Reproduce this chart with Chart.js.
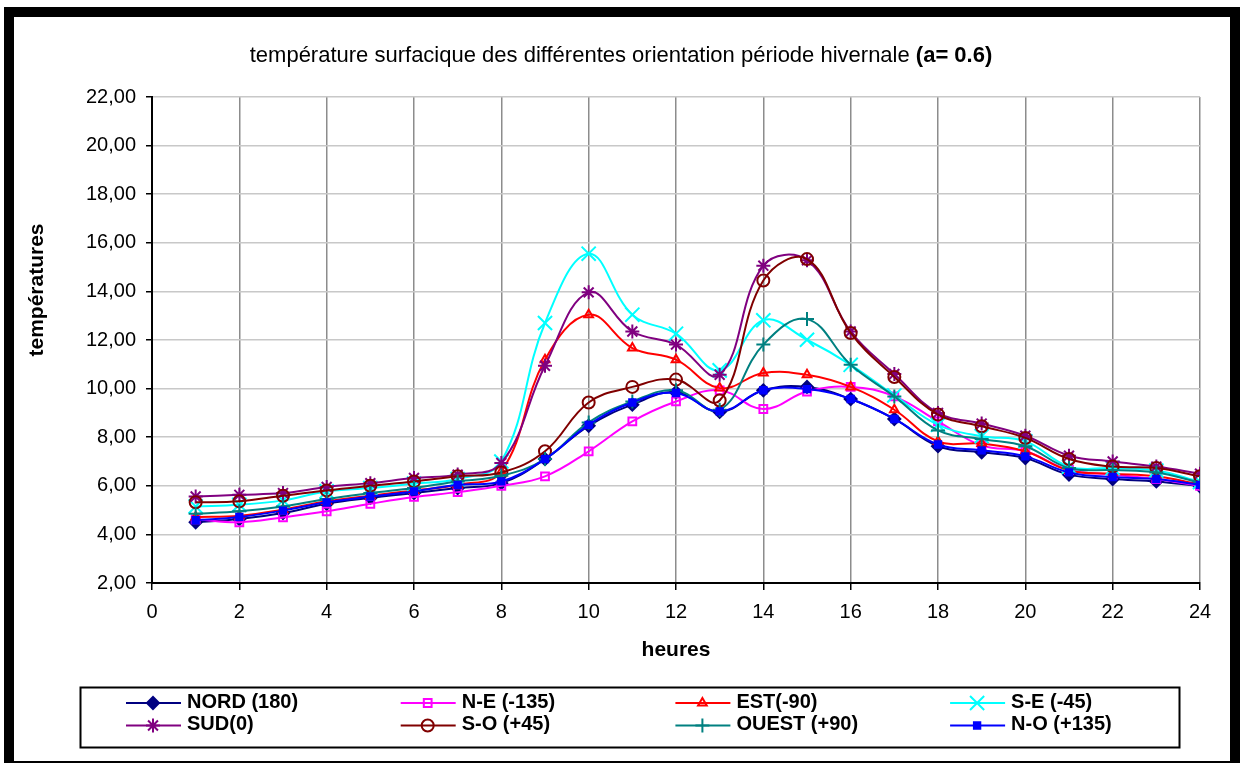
<!DOCTYPE html>
<html>
<head>
<meta charset="utf-8">
<script src="https://cdn.jsdelivr.net/npm/chart.js@4.4.1/dist/chart.umd.min.js"></script>
<style>
  html, body { margin: 0; padding: 0; background: #fff; }
  canvas { display: block; }
</style>
</head>
<body>
<canvas id="graficoTemp" width="1244" height="763"></canvas>
<script>
// heures de la journee
const heures = [1, 2, 3, 4, 5, 6, 7, 8, 9, 10, 11, 12, 13, 14, 15, 16, 17, 18, 19, 20, 21, 22, 23, 24];

// temperatures surfaciques
const nord   = [4.50, 4.63, 4.88, 5.26, 5.50, 5.70, 5.91, 6.11, 7.10, 8.47, 9.34, 9.85, 9.04, 9.93, 10.07, 9.57, 8.75, 7.63, 7.38, 7.14, 6.46, 6.28, 6.18, 5.98];
const nordEst = [4.62, 4.50, 4.70, 4.95, 5.26, 5.54, 5.74, 6.00, 6.39, 7.42, 8.65, 9.47, 9.93, 9.16, 9.88, 10.07, 9.68, 8.65, 7.66, 7.42, 6.65, 6.46, 6.28, 6.00];
const est    = [4.72, 4.77, 5.02, 5.36, 5.59, 5.81, 6.04, 6.59, 11.19, 13.04, 11.67, 11.19, 10.02, 10.64, 10.57, 10.07, 9.13, 7.83, 7.74, 7.42, 6.63, 6.50, 6.39, 6.05];
const sudEst = [5.15, 5.22, 5.40, 5.77, 5.91, 6.09, 6.28, 7.00, 12.70, 15.55, 13.04, 12.26, 10.75, 12.81, 12.01, 10.98, 9.72, 8.51, 8.04, 7.83, 6.79, 6.73, 6.63, 6.16];
const sud    = [5.56, 5.63, 5.70, 5.95, 6.11, 6.32, 6.46, 6.94, 10.94, 13.96, 12.35, 11.81, 10.57, 15.06, 15.28, 12.35, 10.60, 9.00, 8.56, 8.06, 7.24, 7.00, 6.79, 6.50];
const sudOuest = [5.32, 5.36, 5.59, 5.81, 6.00, 6.18, 6.39, 6.55, 7.42, 9.43, 10.07, 10.37, 9.51, 14.45, 15.33, 12.29, 10.48, 8.93, 8.45, 7.97, 7.10, 6.79, 6.73, 6.39];
const ouest  = [4.85, 4.95, 5.15, 5.46, 5.70, 5.91, 6.18, 6.41, 7.10, 8.61, 9.47, 9.93, 9.13, 11.81, 12.86, 10.98, 9.68, 8.28, 7.93, 7.63, 6.73, 6.65, 6.55, 6.13];
const nordOuest = [4.58, 4.72, 4.98, 5.32, 5.56, 5.77, 6.04, 6.18, 7.10, 8.51, 9.43, 9.82, 9.06, 9.93, 9.98, 9.57, 8.75, 7.70, 7.46, 7.21, 6.55, 6.36, 6.28, 6.04];

const titre = 'température surfacique des différentes orientation période hivernale ';
const titreGras = '(a= 0.6)';
const police = 'Arial, "Liberation Sans", sans-serif';

const series = [
  { label: 'NORD (180)',   data: nord,      color: '#000080', style: 'rectRot',  radius: 6,   fill: true },
  { label: 'N-E (-135)',   data: nordEst,   color: '#FF00FF', style: 'rect',     radius: 5.5, fill: false },
  { label: 'EST(-90)',     data: est,       color: '#FF0000', style: 'triangle', radius: 5,   fill: false },
  { label: 'S-E (-45)',    data: sudEst,    color: '#00FFFF', style: 'crossRot', radius: 10,  fill: false },
  { label: 'SUD(0)',       data: sud,       color: '#800080', style: 'star',     radius: 7,   fill: false },
  { label: 'S-O (+45)',    data: sudOuest,  color: '#800000', style: 'circle',   radius: 6,   fill: false },
  { label: 'OUEST (+90)',  data: ouest,     color: '#008080', style: 'cross',    radius: 7,   fill: false },
  { label: 'N-O (+135)',   data: nordOuest, color: '#0000FF', style: 'rect',     radius: 4.5, fill: true }
];

// titre, titres d'axes, legende et cadre
const decor = {
  id: 'decor',
  afterDraw(chart) {
    const ctx = chart.ctx;
    ctx.save();

    ctx.strokeStyle = '#000';
    ctx.lineWidth = 10;
    ctx.strokeRect(9, 12, 1226, 754);

    ctx.fillStyle = '#000';
    ctx.textBaseline = 'alphabetic';
    ctx.font = '22px ' + police;
    const w1 = ctx.measureText(titre).width;
    ctx.font = 'bold 22px ' + police;
    const w2 = ctx.measureText(titreGras).width;
    let x = 621 - (w1 + w2) / 2;
    ctx.font = '22px ' + police;
    ctx.textAlign = 'left';
    ctx.fillText(titre, x, 62);
    ctx.font = 'bold 22px ' + police;
    ctx.fillText(titreGras, x + w1, 62);

    ctx.font = 'bold 21px ' + police;
    ctx.textAlign = 'center';
    ctx.textBaseline = 'middle';
    ctx.fillText('heures', 676, 650);

    ctx.save();
    ctx.translate(37, 290);
    ctx.rotate(-Math.PI / 2);
    ctx.fillText('températures', 0, 0);
    ctx.restore();

    // legende
    ctx.lineWidth = 2;
    ctx.strokeStyle = '#000';
    ctx.strokeRect(80.5, 687.5, 1099, 60);
    ctx.textAlign = 'left';
    ctx.font = 'bold 20px ' + police;
    series.forEach((s, i) => {
      const x0 = 126 + (i % 4) * 274.7;
      const y0 = i < 4 ? 703 : 725.5;
      ctx.strokeStyle = s.color;
      ctx.lineWidth = 2;
      ctx.beginPath();
      ctx.moveTo(x0, y0);
      ctx.lineTo(x0 + 55, y0);
      ctx.stroke();
      ctx.fillStyle = s.fill ? s.color : 'rgba(0,0,0,0)';
      if (Chart.helpers && Chart.helpers.drawPoint) {
        Chart.helpers.drawPoint(ctx, { pointStyle: s.style, radius: s.radius, rotation: 0, borderWidth: 2 }, x0 + 27, y0);
      }
      ctx.fillStyle = '#000';
      ctx.fillText(s.label, x0 + 61, y0 - 1);
    });
    ctx.restore();
  }
};

const ctx = document.getElementById('graficoTemp').getContext('2d');
new Chart(ctx, {
  type: 'line',
  data: {
    datasets: series.map((s, i) => ({
      label: s.label,
      data: heures.map((h, k) => ({ x: h, y: s.data[k] })),
      borderColor: s.color,
      backgroundColor: s.color,
      borderWidth: 2,
      tension: 0.4,
      pointStyle: s.style,
      pointRadius: s.radius,
      pointBorderWidth: 2,
      pointBorderColor: s.color,
      pointBackgroundColor: s.fill ? s.color : 'rgba(0,0,0,0)',
      order: series.length - i
    }))
  },
  options: {
    responsive: false,
    animation: false,
    events: [],
    layout: { padding: { top: 97, right: 44, bottom: 0, left: 0 } },
    plugins: {
      legend: { display: false },
      title: { display: false },
      tooltip: { enabled: false }
    },
    scales: {
      x: {
        type: 'linear',
        min: 0,
        max: 24,
        ticks: { stepSize: 2, color: '#000', font: { size: 20, family: police }, padding: 10, maxRotation: 0 },
        grid: { color: '#8c8c8c', lineWidth: 1.5, tickLength: 7, tickColor: '#000' },
        border: { color: '#000', width: 2 },
        afterFit(s) { s.height = 180; }
      },
      y: {
        min: 2,
        max: 22,
        ticks: {
          stepSize: 2,
          color: '#000',
          font: { size: 20, family: police },
          padding: 10,
          callback: v => v.toFixed(2).replace('.', ',')
        },
        grid: { color: '#c8c8c8', lineWidth: 1.5, tickLength: 6, tickColor: '#000' },
        border: { color: '#000', width: 2 },
        afterFit(s) { s.width = 152; }
      }
    }
  },
  plugins: [decor]
});
</script>
</body>
</html>
